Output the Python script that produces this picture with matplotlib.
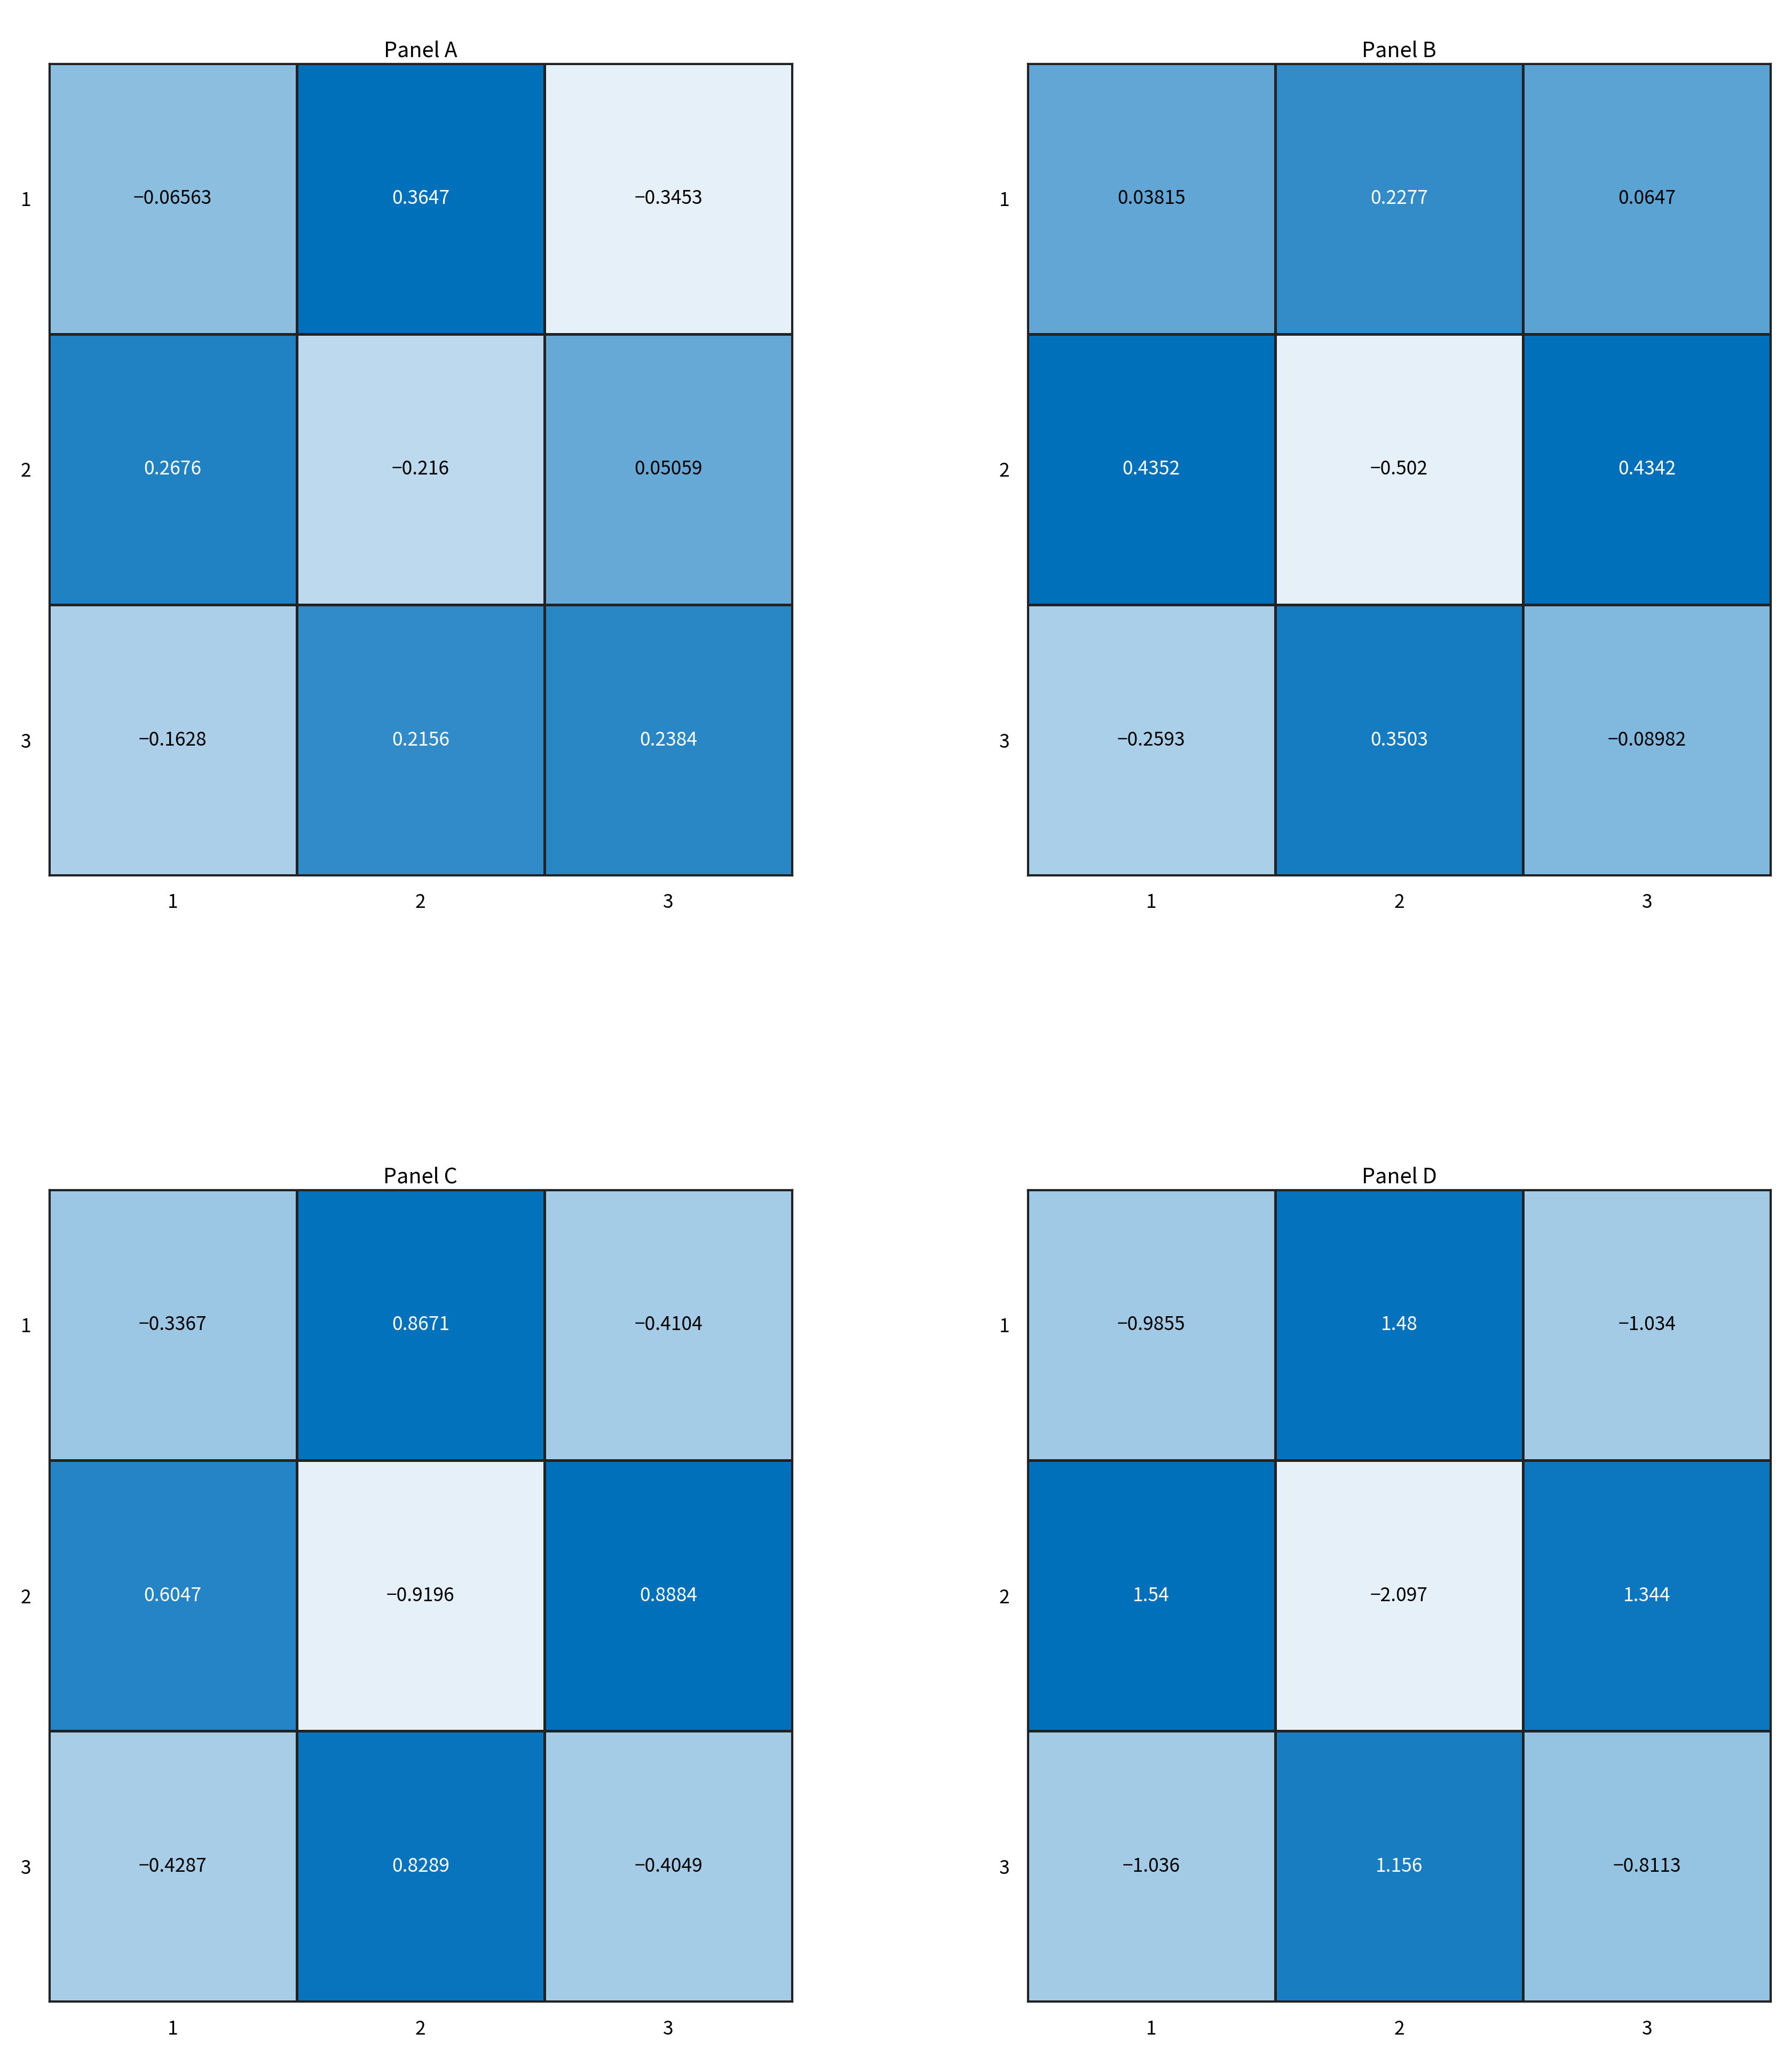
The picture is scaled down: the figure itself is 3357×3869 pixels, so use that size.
import matplotlib
matplotlib.use("Agg")
import matplotlib.pyplot as plt
import numpy as np
from matplotlib.colors import LinearSegmentedColormap

plt.rcParams["font.family"] = ["Noto Sans CJK JP", "DejaVu Sans"]

panel_titles = ["Panel A", "Panel B", "Panel C", "Panel D"]
tick_labels = ["1", "2", "3"]

panel_a = [[-0.06563, 0.3647, -0.3453],
           [0.2676, -0.216, 0.05059],
           [-0.1628, 0.2156, 0.2384]]
panel_b = [[0.03815, 0.2277, 0.0647],
           [0.4352, -0.502, 0.4342],
           [-0.2593, 0.3503, -0.08982]]
panel_c = [[-0.3367, 0.8671, -0.4104],
           [0.6047, -0.9196, 0.8884],
           [-0.4287, 0.8289, -0.4049]]
panel_d = [[-0.9855, 1.48, -1.034],
           [1.54, -2.097, 1.344],
           [-1.036, 1.156, -0.8113]]

cmap = LinearSegmentedColormap.from_list("blu", ["#e6f0f8", "#0070bb"])

W, H = 3357, 3869
fig = plt.figure(figsize=(W / 300, H / 300), dpi=300)

# axes boxes in reference pixel coordinates (scaled from 1357x1564 preview)
s = W / 1357
boxes = [(37, 48, 600, 663), (778, 48, 1341, 663),
         (37, 901, 600, 1516), (778, 901, 1341, 1516)]

for data, title, (l, t, r, b) in zip([panel_a, panel_b, panel_c, panel_d], panel_titles, boxes):
    arr = np.array(data)
    ax = fig.add_axes([l / 1357, 1 - b / 1564, (r - l) / 1357, (b - t) / 1564])
    vmin, vmax = arr.min(), arr.max()
    ax.pcolormesh(arr, cmap=cmap, vmin=vmin, vmax=vmax, edgecolors="#222222", linewidth=0.8)
    ax.set_xlim(0, 3)
    ax.set_ylim(3, 0)
    for i in range(3):
        for j in range(3):
            v = arr[i, j]
            frac = (v - vmin) / (vmax - vmin)
            ax.text(j + 0.5, i + 0.5, f"{v:.4g}".replace("-", "\u2212"),
                    ha="center", va="center", fontsize=8.5,
                    color="white" if frac > 0.7 else "black")
    ax.set_xticks([0.5, 1.5, 2.5])
    ax.set_yticks([0.5, 1.5, 2.5])
    ax.set_xticklabels(tick_labels, fontsize=8.5)
    ax.set_yticklabels(tick_labels, fontsize=8.5)
    ax.tick_params(length=0, pad=8)
    ax.set_title(title, fontsize=9.5, pad=3)
    for sp in ax.spines.values():
        sp.set_color("#222222")

fig.savefig("out.png", dpi=300)
